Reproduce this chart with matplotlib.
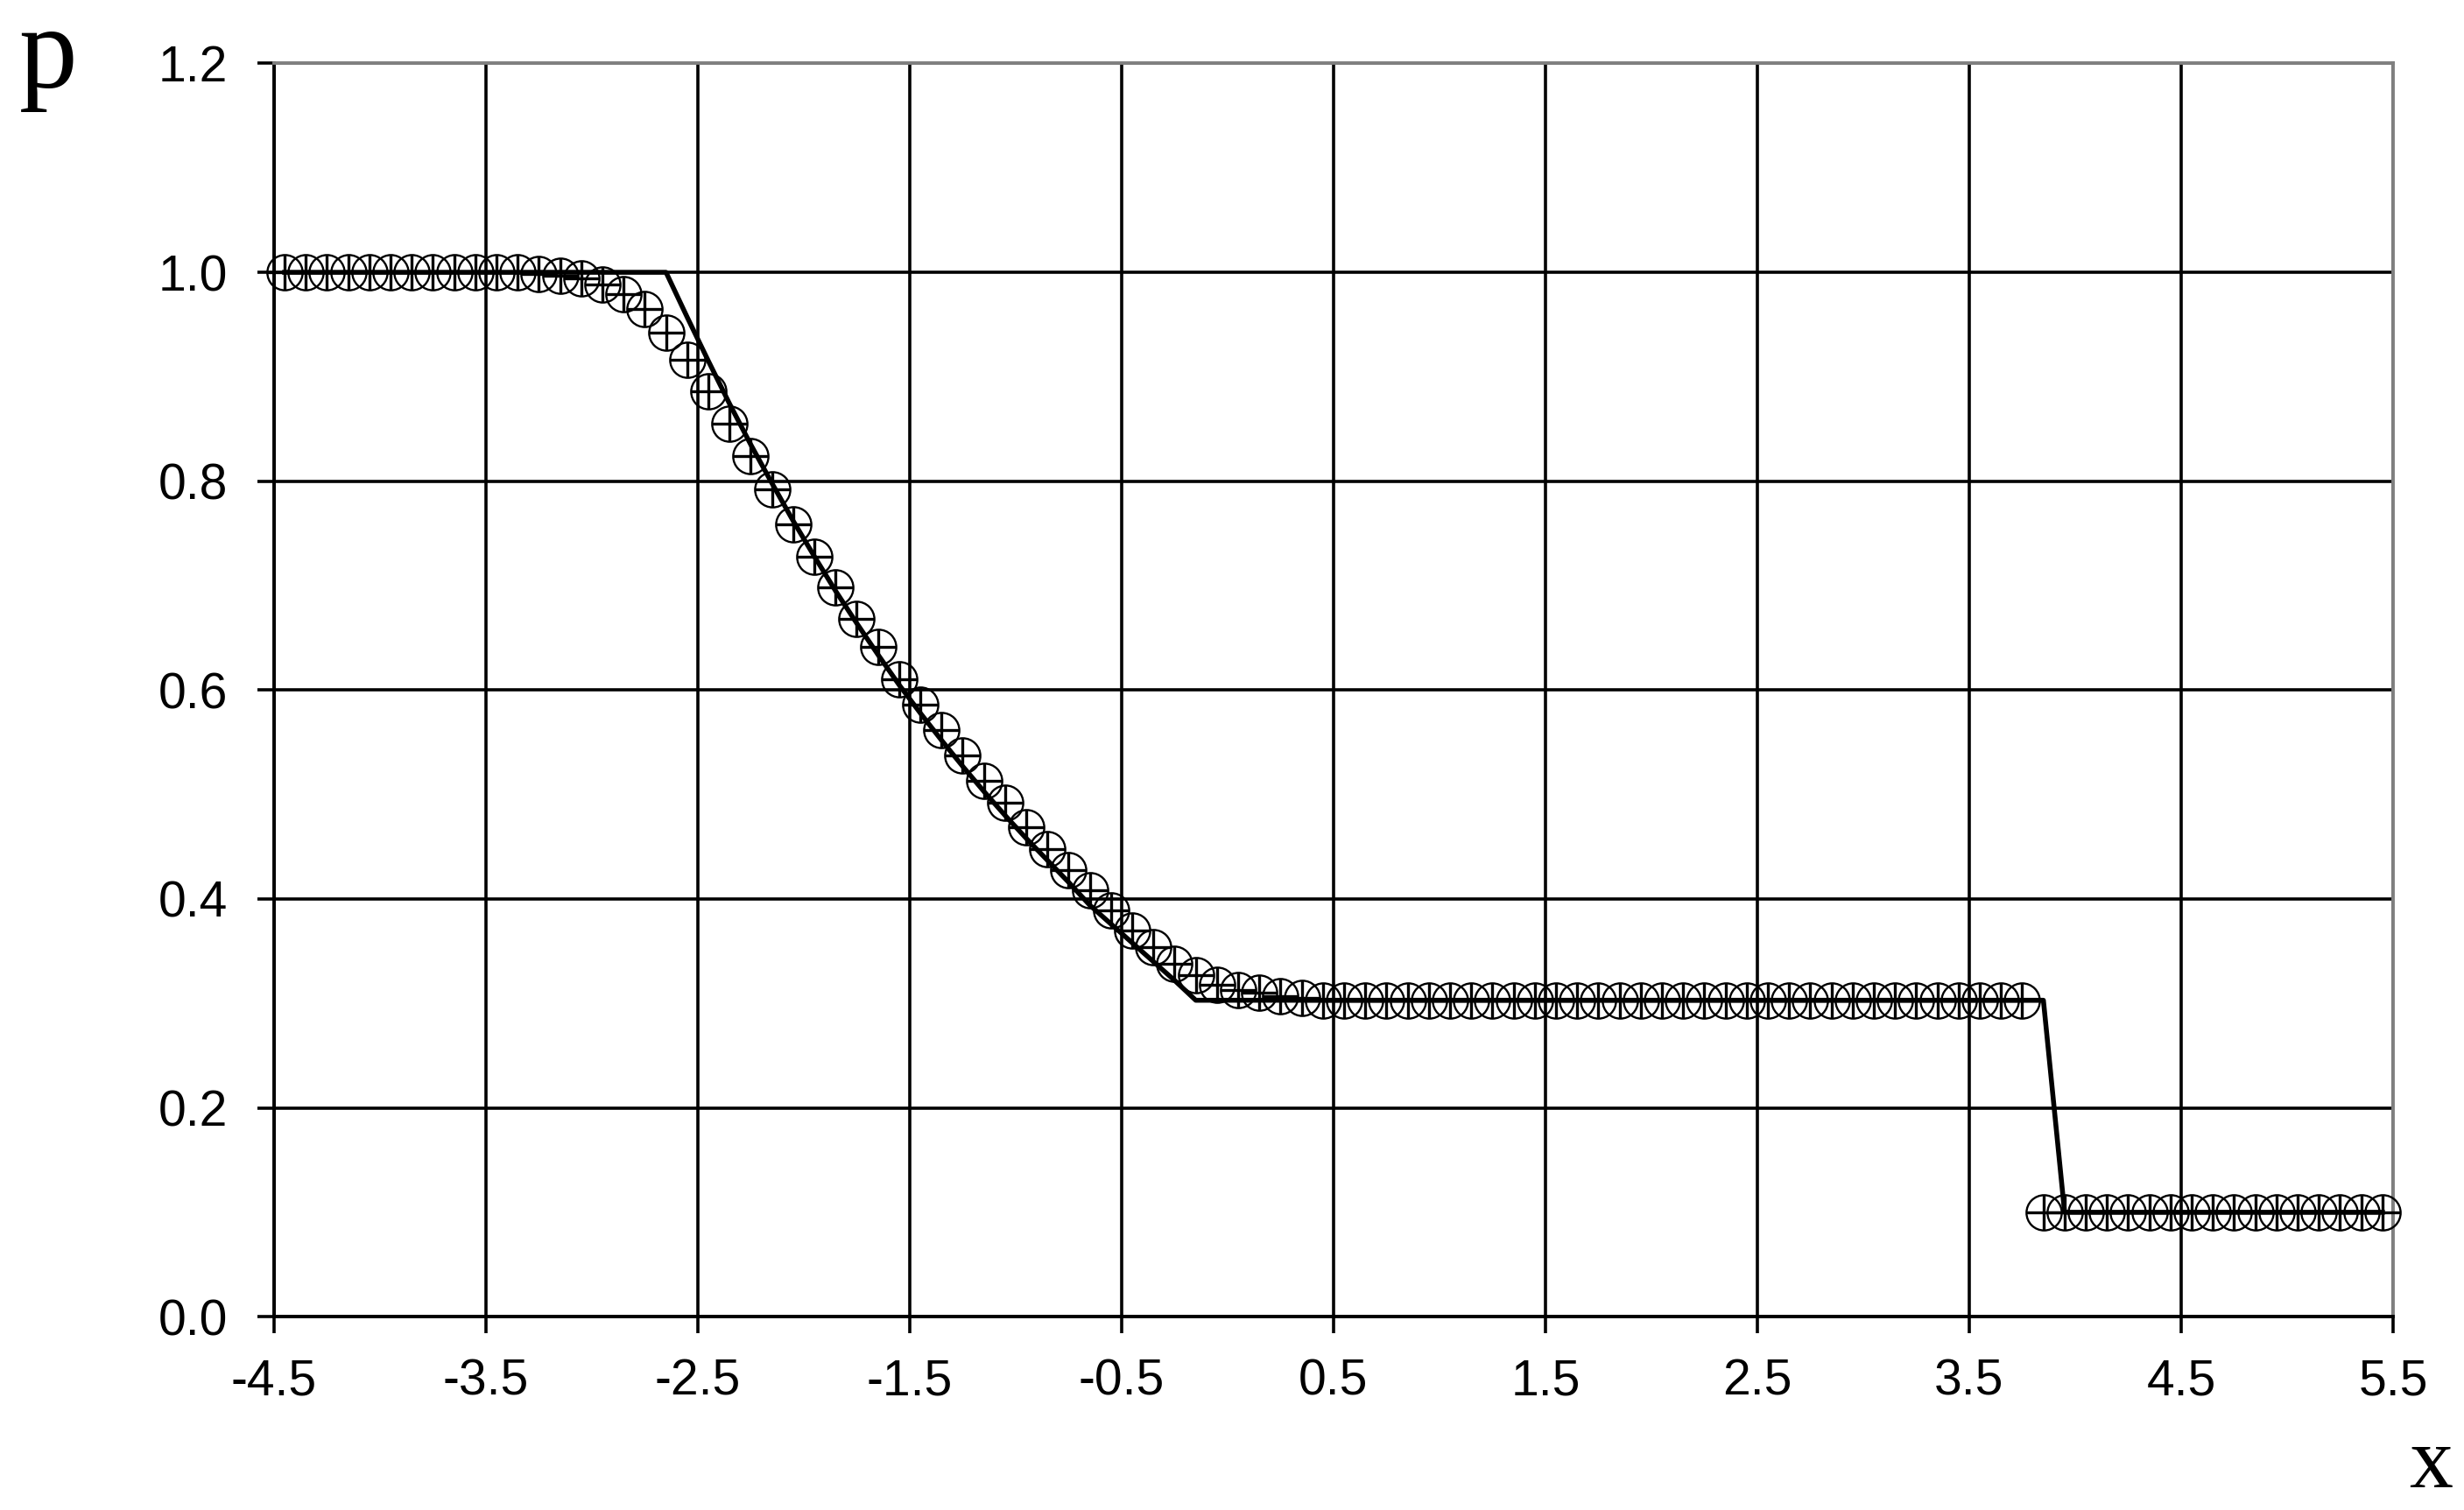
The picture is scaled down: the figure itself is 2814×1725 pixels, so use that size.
import matplotlib
matplotlib.use("Agg")
import matplotlib.pyplot as plt

# cell centres of the numerical solution
x_num = [-4.45, -4.35, -4.25, -4.15, -4.05, -3.95, -3.85, -3.75, -3.65, -3.55,
         -3.45, -3.35, -3.25, -3.15, -3.05, -2.95, -2.85, -2.75, -2.65, -2.55,
         -2.45, -2.35, -2.25, -2.15, -2.05, -1.95, -1.85, -1.75, -1.65, -1.55,
         -1.45, -1.35, -1.25, -1.15, -1.05, -0.95, -0.85, -0.75, -0.65, -0.55,
         -0.45, -0.35, -0.25, -0.15, -0.05, 0.05, 0.15, 0.25, 0.35, 0.45,
         0.55, 0.65, 0.75, 0.85, 0.95, 1.05, 1.15, 1.25, 1.35, 1.45,
         1.55, 1.65, 1.75, 1.85, 1.95, 2.05, 2.15, 2.25, 2.35, 2.45,
         2.55, 2.65, 2.75, 2.85, 2.95, 3.05, 3.15, 3.25, 3.35, 3.45,
         3.55, 3.65, 3.75, 3.85, 3.95, 4.05, 4.15, 4.25, 4.35, 4.45,
         4.55, 4.65, 4.75, 4.85, 4.95, 5.05, 5.15, 5.25, 5.35, 5.45]

p_num = [1.000, 1.000, 1.000, 1.000, 1.000, 1.000, 1.000, 1.000, 1.000, 1.000,
         1.000, 1.000, 0.998, 0.997, 0.994, 0.988, 0.979, 0.965, 0.942, 0.916,
         0.886, 0.855, 0.824, 0.792, 0.759, 0.728, 0.698, 0.668, 0.641, 0.610,
         0.586, 0.562, 0.537, 0.513, 0.492, 0.469, 0.448, 0.428, 0.408, 0.389,
         0.370, 0.354, 0.338, 0.327, 0.318, 0.313, 0.310, 0.307, 0.305, 0.303,
         0.303, 0.303, 0.303, 0.303, 0.303, 0.303, 0.303, 0.303, 0.303, 0.303,
         0.303, 0.303, 0.303, 0.303, 0.303, 0.303, 0.303, 0.303, 0.303, 0.303,
         0.303, 0.303, 0.303, 0.303, 0.303, 0.303, 0.303, 0.303, 0.303, 0.303,
         0.303, 0.303, 0.303, 0.100, 0.100, 0.100, 0.100, 0.100, 0.100, 0.100,
         0.100, 0.100, 0.100, 0.100, 0.100, 0.100, 0.100, 0.100, 0.100, 0.100]

# exact solution
x_exact = [-4.45, -2.65, -2.55, -2.45, -2.35, -2.25, -2.15, -2.05, -1.95, -1.85,
           -1.75, -1.65, -1.55, -1.45, -1.35, -1.25, -1.15, -1.05, -0.95, -0.85,
           -0.75, -0.65, -0.55, -0.45, -0.35, -0.25, -0.15, 3.85, 3.95, 5.45]
p_exact = [1.000, 1.000, 0.957, 0.915, 0.874, 0.835, 0.798, 0.762, 0.728, 0.695,
           0.664, 0.634, 0.605, 0.578, 0.552, 0.527, 0.503, 0.480, 0.458, 0.437,
           0.416, 0.394, 0.376, 0.358, 0.340, 0.322, 0.303, 0.303, 0.100, 0.100]

x_ticks = [-4.5, -3.5, -2.5, -1.5, -0.5, 0.5, 1.5, 2.5, 3.5, 4.5, 5.5]
x_labels = ["-4.5", "-3.5", "-2.5", "-1.5", "-0.5", "0.5", "1.5", "2.5", "3.5", "4.5", "5.5"]
y_ticks = [0.0, 0.2, 0.4, 0.6, 0.8, 1.0, 1.2]
y_labels = ["0.0", "0.2", "0.4", "0.6", "0.8", "1.0", "1.2"]

fig = plt.figure(figsize=(28.14, 17.25), dpi=100)
ax = fig.add_axes([0.1112, 0.128, 0.8600, 0.830])

ax.set_xlim(-4.5, 5.5)
ax.set_ylim(0.0, 1.2)

ax.grid(True, color="black", linewidth=2.6)
ax.set_axisbelow(True)

# numerical: circle with plus
ax.plot(x_num, p_num, linestyle="none", marker="o", markersize=29,
        markerfacecolor="none", markeredgecolor="black", markeredgewidth=1.7,
        clip_on=False, zorder=3)
ax.plot(x_num, p_num, linestyle="none", marker="+", markersize=29,
        markeredgecolor="black", markeredgewidth=2.4, clip_on=False, zorder=3)

# exact
ax.plot(x_exact, p_exact, color="black", linewidth=4.0, zorder=4)

ax.set_xticks(x_ticks)
ax.set_xticklabels(x_labels)
ax.set_yticks(y_ticks)
ax.set_yticklabels(y_labels)
ax.tick_params(axis="both", direction="out", length=14, width=2.6,
               color="black", labelsize=41, pad=20)
ax.tick_params(axis="y", pad=24)
for lab in ax.get_xticklabels() + ax.get_yticklabels():
    lab.set_fontfamily("Liberation Sans")

ax.spines["left"].set_color("black")
ax.spines["bottom"].set_color("black")
ax.spines["top"].set_color("#808080")
ax.spines["right"].set_color("#808080")
for s in ax.spines.values():
    s.set_linewidth(2.8)
    s.set_zorder(2.5)

fig.text(0.0195, 0.942, "p", fontsize=96, family="Liberation Serif",
         ha="center", va="baseline")
fig.text(0.9865, 0.015, "x", fontsize=72, family="Liberation Serif",
         ha="center", va="baseline")

fig.savefig("out.png", dpi=100, facecolor="white")
